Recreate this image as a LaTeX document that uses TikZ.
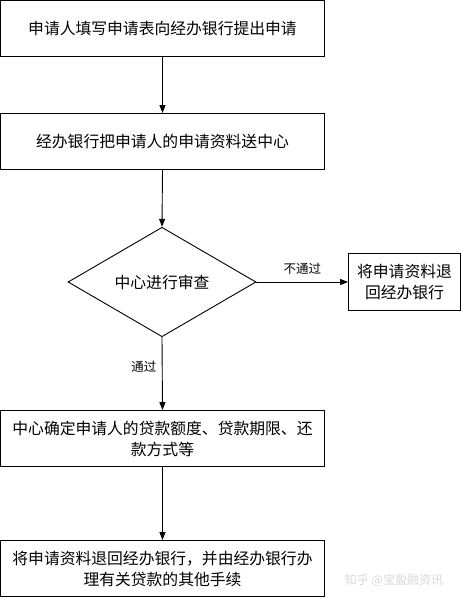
\documentclass[tikz,border=0pt]{standalone}
\usepackage{fontspec}
\setmainfont{Noto Sans CJK SC}
\usetikzlibrary{shapes.geometric,arrows.meta}
\begin{document}
\begin{tikzpicture}[x=1pt,y=-1pt,
  stepbox/.style={draw,line width=0.9pt,minimum width=324pt,minimum height=56pt,inner sep=0pt,font=\fontsize{15.8}{21}\selectfont,align=center,text width=314pt},
  sidebox/.style={draw,line width=0.9pt,minimum width=112pt,minimum height=57pt,inner sep=0pt,font=\fontsize{15.8}{21}\selectfont,align=center,text width=106pt},
  decide/.style={draw,line width=0.9pt,diamond,minimum width=188pt,minimum height=94pt,inner sep=0pt,font=\fontsize{15.8}{18}\selectfont},
  lab/.style={font=\fontsize{12.5}{14}\selectfont},
  conn/.style={line width=0.9pt,-{Triangle[length=8pt,width=6pt]}}]
\useasboundingbox (0,0) rectangle (461,598);
\fill[white] (0,0) rectangle (461,598);
\node[stepbox] (b1) at (162.5,28.5) {申请人填写申请表向经办银行提出申请};
\node[stepbox] (b2) at (162.5,141.5) {经办银行把申请人的申请资料送中心};
\node[decide] (d) at (162,282) {中心进行审查};
\node[sidebox] (r) at (404.5,282) {将申请资料退\\回经办银行};
\node[stepbox] (b3) at (162.5,438.5) {中心确定申请人的贷款额度、贷款期限、还\\款方式等};
\node[stepbox] (b4) at (162.5,568.5) {将申请资料退回经办银行，并由经办银行办\\理有关贷款的其他手续};
\draw[conn] (b1.south) -- (b2.north);
\draw[conn] (b2.south) -- (d.north);
\draw[conn] (d.east) -- node[lab,above=4pt] {不通过} (r.west);
\draw[conn] (d.south) -- node[lab,pos=0.4,left=2pt] {通过} (b3.north);
\draw[conn] (b3.south) -- (b4.north);
\node[font=\fontsize{12}{14}\selectfont,text=black!15] (wm) at (394,580) {知乎 @宝盈融资讯};
\end{tikzpicture}
\end{document}
